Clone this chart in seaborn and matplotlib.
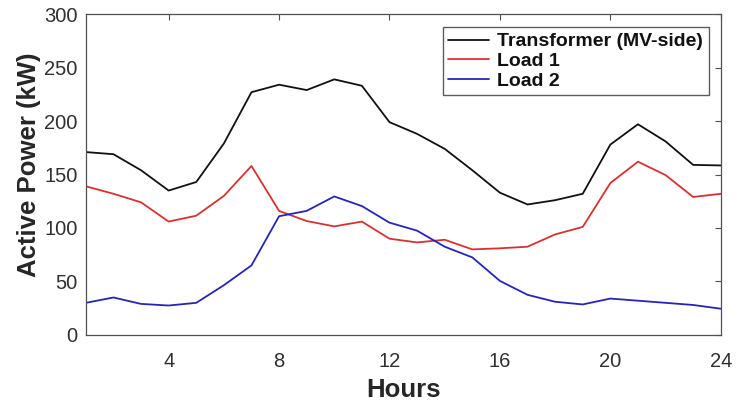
import numpy as np
import pandas as pd
import matplotlib
matplotlib.use("Agg")
import matplotlib.pyplot as plt
import seaborn as sns

hours = list(range(1, 25))
transformer = [171, 169, 154, 135, 143, 179, 227, 234, 229, 239, 233, 199,
               188, 174, 154, 133, 122, 126, 132, 178, 197, 181, 159, 158.5]
load1 = [139, 132, 124, 106, 111.5, 130, 158, 116, 106.5, 101.5, 106, 90,
         86.5, 89, 80, 81, 82.5, 94, 101, 142, 162, 149.5, 129, 132]
load2 = [30, 35, 29, 27.5, 30, 46.5, 65, 111, 116, 129.5, 120.5, 105,
         97.5, 82.5, 72.5, 50.5, 37.5, 31, 28.5, 34, 32, 30, 28, 24.5]
series_names = ["Transformer (MV-side)", "Load 1", "Load 2"]
series_colors = ["#111111", "#d93030", "#2525b8"]

df = pd.DataFrame({"Hours": hours * 3,
                   "Power": transformer + load1 + load2,
                   "Series": np.repeat(series_names, len(hours))})

sns.set_theme(style="white")
plt.rcParams["font.family"] = ["Liberation Sans", "DejaVu Sans"]

fig = plt.figure(figsize=(7.4, 4.04), dpi=100)
ax = fig.add_axes([0.116, 0.171, 0.858, 0.794])
sns.lineplot(data=df, x="Hours", y="Power", hue="Series",
             palette=dict(zip(series_names, series_colors)),
             linewidth=1.3, ax=ax)

ax.set_xlim(1, 24)
ax.set_ylim(0, 300)
ax.set_xticks([4, 8, 12, 16, 20, 24])
ax.set_yticks(range(0, 301, 50))
ax.tick_params(direction="in", length=4, width=0.8, colors="#505050",
               labelsize=14.5, top=True, right=True, labelcolor="#303030")
ax.tick_params(axis="x", pad=12)
ax.tick_params(axis="y", pad=6)
for s in ax.spines.values():
    s.set_color("#505050")
    s.set_linewidth(0.9)
ax.set_xlabel("Hours", fontsize=18.5, fontweight="bold", color="#262626", labelpad=5)
ax.set_ylabel("Active Power (kW)", fontsize=18.5, fontweight="bold", color="#262626")
ax.yaxis.set_label_coords(-0.07, 0.53)

leg = ax.legend(loc="upper right", bbox_to_anchor=(0.981, 0.96), borderaxespad=0,
                fontsize=14, frameon=True, fancybox=False, handlelength=2.1,
                borderpad=0.3, labelspacing=0.1, handletextpad=0.4)
leg.get_frame().set_edgecolor("#333333")
leg.get_frame().set_linewidth(1.0)
for t in leg.get_texts():
    t.set_fontweight("bold")
    t.set_color("#111111")

fig.savefig("out.png", dpi=100)
